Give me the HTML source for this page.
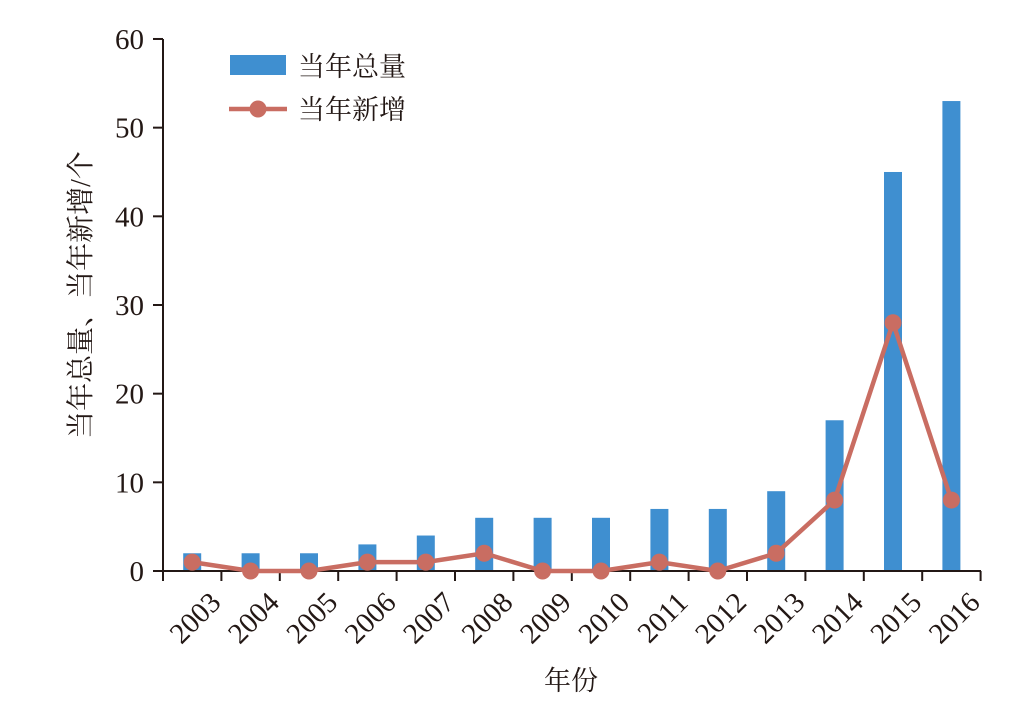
<!DOCTYPE html>
<html><head><meta charset="utf-8"><style>body{margin:0;background:#fff}</style></head><body>
<svg width="1034" height="697" xmlns="http://www.w3.org/2000/svg" font-family="Liberation Serif, Noto Serif CJK SC, serif" fill="#231815">
<g id="bars" fill="#3f8fd0"></g>
<line x1="163" y1="39" x2="163" y2="571" stroke="#231815" stroke-width="2"/>
<line x1="163" y1="571" x2="981" y2="571" stroke="#231815" stroke-width="2"/>
<g id="ax" stroke="#231815" stroke-width="2"></g>
<g id="yl" font-size="29" text-anchor="end"></g>
<g id="xl" font-size="29" text-anchor="end"></g>
<polyline id="ln" fill="none" stroke="#c96d62" stroke-width="4.5"/>
<g id="dots" fill="#c96d62"></g>
<rect x="230" y="55" width="56" height="20" fill="#3f8fd0"/>
<text x="298" y="76" font-size="27">当年总量</text>
<line x1="229" y1="109" x2="287" y2="109" stroke="#c96d62" stroke-width="4.5"/>
<circle cx="258" cy="109" r="8.5" fill="#c96d62"/>
<text x="298" y="119" font-size="27">当年新增</text>
<text x="571" y="690" font-size="27" text-anchor="middle">年份</text>
<text transform="translate(90,295) rotate(-90)" font-size="28" text-anchor="middle">当年总量、当年新增/个</text>
</svg>
<script>
const ns="http://www.w3.org/2000/svg";
const tot=[2,2,2,3,4,6,6,6,7,7,9,17,45,53],nw=[1,0,0,1,1,2,0,0,1,0,2,8,28,8];
const Y=v=>571-v*8.867,X=i=>163+(i+0.5)*58.4;
function el(p,t,a,txt){const e=document.createElementNS(ns,t);for(const k in a)e.setAttribute(k,a[k]);if(txt!=null)e.textContent=txt;document.getElementById(p).appendChild(e);}
let pts=[];
tot.forEach((v,i)=>{el("bars","rect",{x:X(i)-9,y:Y(v),width:18,height:v*8.867});pts.push(X(i)+","+Y(nw[i]));el("dots","circle",{cx:X(i),cy:Y(nw[i]),r:8.5});
el("xl","text",{transform:`translate(${X(i)+16},${590}) rotate(-45)`,dy:"20"},2003+i);});
document.getElementById("ln").setAttribute("points",pts.join(" "));
for(let i=0;i<=14;i++)el("ax","line",{x1:163+i*58.4,y1:571,x2:163+i*58.4,y2:581});
for(let v=0;v<=60;v+=10){el("ax","line",{x1:153,y1:Y(v),x2:163,y2:Y(v)});el("yl","text",{x:144,y:Y(v)+10},v);}
</script>
</body></html>
